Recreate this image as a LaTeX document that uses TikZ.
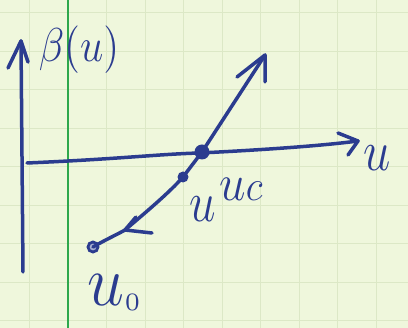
\documentclass[tikz,border=0pt]{standalone}
\begin{document}
\begin{tikzpicture}[x=1pt,y=-1pt,
  ink/.style={draw=inkblue,line width=3.5pt,line cap=round,line join=round},
  bigdot/.style={circle,fill=inkblue,inner sep=0pt,minimum size=15pt},
  smalldot/.style={circle,fill=inkblue,inner sep=0pt,minimum size=11pt},
  opendot/.style={circle,draw=inkblue,fill=inkblue!40,line width=2.8pt,inner sep=0pt,minimum size=10pt},
  lbl/.style={text=inkblue,inner sep=0pt,font=\Large}]
\definecolor{inkblue}{HTML}{2B3C8F}
\definecolor{paper}{HTML}{EFF7DC}
\definecolor{gridc}{HTML}{DCE8C6}
\definecolor{margin}{HTML}{2EA84C}
\useasboundingbox (0,0) rectangle (408,328);
\fill[paper] (0,0) rectangle (408,328);
% grid
\foreach \i in {0,...,9} {
  \draw[gridc,line width=1pt] ({68+38.5*\i},0) -- ({68+38.5*\i},328);
  \draw[gridc,line width=1pt] (0,{13+38.5*\i}) -- (408,{13+38.5*\i});
}
\draw[gridc,line width=1pt] (29.5,0) -- (29.5,328);
% margin line
\draw[margin,line width=1.6pt] (68,0) -- (68,328);
% named points
\coordinate (vb) at (23,272);
\coordinate (vt) at (21,41);
\coordinate (hs) at (27,163);
\coordinate (hm) at (200,153);
\coordinate (ht) at (358,141);
\coordinate (lt) at (265,55);
\coordinate (ma) at (125,230);
% vertical axis
\draw[ink] (vb) -- (vt);
\draw[ink] (8,68) -- (vt) -- (28,62);
% horizontal axis
\draw[ink] (hs) .. controls (120,159) and (160,154) .. (hm) .. controls (260,150) and (320,146) .. (ht);
\draw[ink] (338,133) -- (ht) -- (348,155);
% dots
\node[opendot] (u0) at (93,247) {};
\node[smalldot] (u) at (183,177) {};
\node[bigdot] (uc) at (202,152) {};
% main line
\draw[ink] (u0.center) .. controls (105,240) and (118,234) .. (ma) .. controls (145,213) and (170,192) .. (u.center) -- (uc.center) -- (lt);
\draw[ink] (237,77) -- (lt) -- (265,82);
\draw[ink] (136,217) -- (ma) -- (152,233);
% labels
\node[lbl,xscale=2.9,yscale=3.3] (lb) at (79,50) {$\beta(u)$};
\node[lbl,xscale=3.4,yscale=4] (lu) at (377,158) {$u$};
\node[lbl,xscale=3.3,yscale=3.6] (luc) at (241,189) {$u${\large$c$}};
\node[lbl,xscale=3.3,yscale=4] (lu2) at (203,209) {$u$};
\node[lbl,xscale=4.6,yscale=5] (lu0) at (114,293) {$u$\raisebox{-1pt}{\tiny$0$}};
\end{tikzpicture}
\end{document}
